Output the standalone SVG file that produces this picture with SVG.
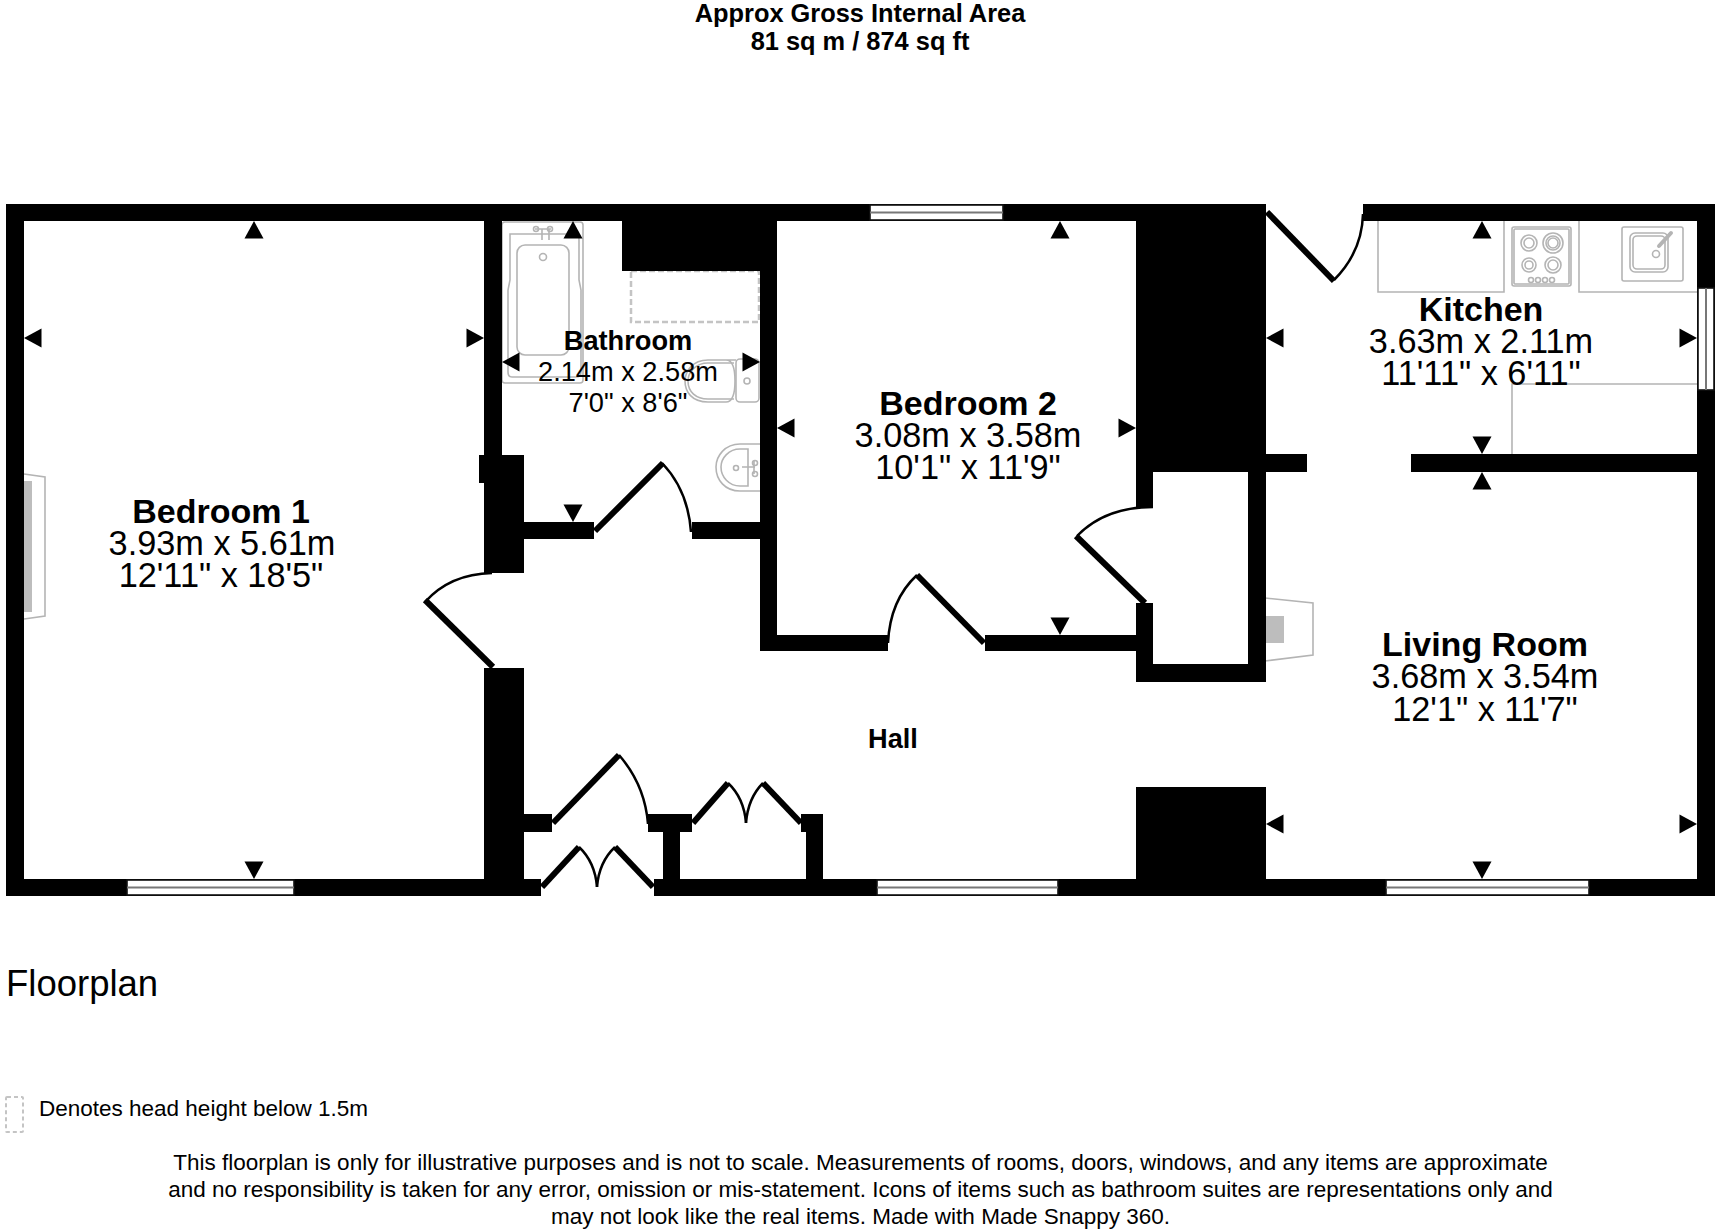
<svg xmlns="http://www.w3.org/2000/svg" width="1720" height="1232" viewBox="0 0 1720 1232">
<style>
text{font-family:"Liberation Sans",Arial,sans-serif;fill:#000;text-anchor:middle}
.n{font-weight:700;font-size:34px}.d{font-size:34.3px}
.ns{font-weight:700;font-size:27.2px}.ds{font-size:27.2px}
.sm{font-size:22.5px}.h{font-weight:700;font-size:25.4px}
.leaf{stroke:#000;stroke-width:6;fill:none}
.arc{stroke:#000;stroke-width:2.5;fill:none}
.fx{stroke:#b4b4b4;stroke-width:1.6;fill:none}
.dash{stroke:#c4c4c4;stroke-width:2.5;stroke-dasharray:6 3;fill:none}
.win{fill:#fff;stroke:#111;stroke-width:1.6}
.mid{stroke:#777;stroke-width:2}
</style>
<defs><path id="t" d="M-9.500 0H9.500L0 -17.500Z"/></defs>
<rect width="1720" height="1232" fill="#fff"/>
<g id="fixtures">
<rect class="fx" x="502" y="222" width="81" height="161" rx="3"/>
<path class="fx" d="M510 234H578Q579 234 579 240V280L581 290V372Q581 377 576 377H512Q508 377 508 372V290L510 280Z"/>
<rect class="fx" x="517" y="245" width="52" height="110" rx="8"/>
<circle class="fx" cx="543" cy="257" r="3.5"/>
<path class="fx" d="M542 240V229M549 240V229M535 229H551"/>
<circle class="fx" cx="536" cy="229" r="2.5"/><circle class="fx" cx="550" cy="229" r="2.5"/>
<rect class="fx" x="736" y="359" width="23" height="43" rx="4"/>
<circle class="fx" cx="747" cy="381" r="3"/>
<path class="fx" d="M736 360H708C692 360 685 372 685 381C685 392 692 402 708 402H726C732 402 735 396 735 381C735 366 732 360 726 360"/>
<path class="fx" d="M734 363H708C696 363 688 372 688 381C688 392 696 399 708 399H734"/>
<path class="fx" d="M760 444H740C725 444 716 456 716 467C716 480 725 491 740 491H760"/>
<path class="fx" d="M748 449H740C729 449 721 458 721 467C721 477 729 486 740 486H748Z"/>
<circle class="fx" cx="736" cy="468" r="2.5"/>
<path class="fx" d="M742 467H755M754 461V474"/>
<circle class="fx" cx="755" cy="463" r="2.5"/><circle class="fx" cx="755" cy="474" r="2.5"/>
<rect class="dash" x="631" y="271" width="128" height="51"/>
<path class="fx" d="M1378 221V292H1504V221M1579 221V292H1697M1512 454V384H1697"/>
<rect class="fx" x="1512" y="227" width="59" height="59" rx="2"/>
<rect class="fx" x="1514" y="229" width="55" height="55" rx="1"/>
<circle class="fx" cx="1529" cy="243" r="8"/><circle class="fx" cx="1529" cy="243" r="5"/>
<circle class="fx" cx="1553" cy="243" r="10"/><circle class="fx" cx="1553" cy="243" r="7"/><circle class="fx" cx="1553" cy="243" r="5"/>
<circle class="fx" cx="1529" cy="265" r="7"/><circle class="fx" cx="1529" cy="265" r="4"/>
<circle class="fx" cx="1553" cy="265" r="8"/><circle class="fx" cx="1553" cy="265" r="5"/>
<circle class="fx" cx="1531" cy="280" r="2.5"/><circle class="fx" cx="1538" cy="280" r="2.5"/><circle class="fx" cx="1545" cy="280" r="2.5"/><circle class="fx" cx="1552" cy="280" r="2.5"/>
<rect class="fx" x="1622" y="227" width="61" height="54" rx="2"/>
<rect class="fx" x="1630" y="233" width="38" height="39" rx="5"/>
<rect class="fx" x="1633" y="236" width="32" height="33" rx="4"/>
<circle class="fx" cx="1656" cy="254" r="3.5"/>
<path d="M1659 246L1671 233" stroke="#b4b4b4" stroke-width="4" stroke-linecap="round"/>
<path class="fx" stroke-width="1.2" d="M24 474L45 477V616L24 619"/>
<rect x="24" y="481" width="8" height="131" fill="#bdbdbd"/>
<path class="fx" stroke-width="1.2" d="M1265 598L1313 603V655L1265 661"/>
<rect x="1265" y="616" width="19" height="27" fill="#bdbdbd"/>
</g>
<g id="walls" fill="#000">
<rect x="6" y="204" width="1260" height="17"/>
<rect x="1363" y="204" width="352" height="17"/>
<rect x="6" y="204" width="18" height="692"/>
<rect x="1697" y="204" width="18" height="692"/>
<rect x="6" y="879" width="535" height="17"/>
<rect x="654" y="879" width="1061" height="17"/>
<rect x="484" y="204" width="18" height="260"/>
<rect x="479" y="455" width="45" height="28"/>
<rect x="484" y="455" width="40" height="118"/>
<rect x="484" y="668" width="40" height="220"/>
<rect x="622" y="204" width="155" height="67"/>
<rect x="760" y="204" width="17" height="447"/>
<rect x="524" y="522" width="70" height="17"/>
<rect x="692" y="522" width="68" height="17"/>
<rect x="760" y="635" width="128" height="16"/>
<rect x="985" y="635" width="151" height="16"/>
<rect x="1136" y="204" width="130" height="268"/>
<rect x="1136" y="460" width="17" height="47"/>
<rect x="1136" y="603" width="17" height="79"/>
<rect x="1136" y="664" width="130" height="18"/>
<rect x="1248" y="460" width="18" height="222"/>
<rect x="1265" y="454" width="42" height="18"/>
<rect x="1411" y="454" width="286" height="18"/>
<rect x="1136" y="787" width="130" height="100"/>
<rect x="524" y="814" width="28" height="18"/>
<rect x="648" y="814" width="44" height="18"/>
<rect x="663" y="814" width="17" height="70"/>
<rect x="801" y="814" width="22" height="18"/>
<rect x="806" y="814" width="17" height="70"/>
</g>
<g id="windows">
<rect class="win" x="870" y="205" width="133" height="15"/><path class="mid" d="M870 212.500H1003"/>
<rect class="win" x="127" y="880" width="167" height="15"/><path class="mid" d="M127 887.500H294"/>
<rect class="win" x="877" y="880" width="181" height="15"/><path class="mid" d="M877 887.500H1058"/>
<rect class="win" x="1386" y="880" width="203" height="15"/><path class="mid" d="M1386 887.500H1589"/>
<rect class="win" x="1698" y="288" width="16" height="102"/><path class="mid" d="M1706 288V390"/>
</g>
<g id="doors">
<path class="leaf" d="M493 667L425 600"/><path class="arc" d="M492 573Q450 574 425 602"/>
<path class="leaf" d="M595 531L663 463"/><path class="arc" d="M662 463Q688 490 691 532"/>
<path class="leaf" d="M984 643L917 575"/><path class="arc" d="M917 575Q890 600 888 643"/>
<path class="leaf" d="M1145 603L1076 536"/><path class="arc" d="M1077 536Q1105 507 1153 507"/>
<path class="leaf" d="M1267 212L1334 281"/><path class="arc" d="M1334 280Q1362 252 1363 214"/>
<path class="leaf" d="M553 823L619 755"/><path class="arc" d="M619 755Q645 785 648 824"/>
<path class="leaf" d="M542 887L579 847"/><path class="arc" d="M579 847Q595 862 597 887"/>
<path class="leaf" d="M653 887L615 847"/><path class="arc" d="M615 847Q599 862 597 887"/>
<path class="leaf" d="M693 823L728 783"/><path class="arc" d="M728 783Q744 798 746 823"/>
<path class="leaf" d="M801 823L763 783"/><path class="arc" d="M763 783Q748 798 746 823"/>
</g>
<g id="markers" fill="#000">
<use href="#t" x="254" y="238.500"/>
<use href="#t" transform="translate(254 861.500) rotate(180)"/>
<use href="#t" transform="translate(41.500 338) rotate(-90)"/>
<use href="#t" transform="translate(466.500 338) rotate(90)"/>
<use href="#t" x="573" y="238.500"/>
<use href="#t" transform="translate(573 504.500) rotate(180)"/>
<use href="#t" transform="translate(519.500 362) rotate(-90)"/>
<use href="#t" transform="translate(742.500 362) rotate(90)"/>
<use href="#t" x="1060" y="238.500"/>
<use href="#t" transform="translate(1060 617.500) rotate(180)"/>
<use href="#t" transform="translate(794.500 428) rotate(-90)"/>
<use href="#t" transform="translate(1118.500 428) rotate(90)"/>
<use href="#t" x="1482" y="238.500"/>
<use href="#t" transform="translate(1482 436.500) rotate(180)"/>
<use href="#t" transform="translate(1283.500 338) rotate(-90)"/>
<use href="#t" transform="translate(1679.500 338) rotate(90)"/>
<use href="#t" x="1482" y="489.500"/>
<use href="#t" transform="translate(1482 861.500) rotate(180)"/>
<use href="#t" transform="translate(1283.500 824) rotate(-90)"/>
<use href="#t" transform="translate(1679.500 824) rotate(90)"/>
</g>
<g id="labels">
<text class="h" x="860" y="22">Approx Gross Internal Area</text>
<text class="h" x="860" y="50">81 sq m / 874 sq ft</text>
<text class="n" x="221" y="523">Bedroom 1</text><text class="d" x="222" y="555">3.93m x 5.61m</text><text class="d" x="221" y="587">12'11" x 18'5"</text>
<text class="ns" x="628" y="350">Bathroom</text><text class="ds" x="628" y="381">2.14m x 2.58m</text><text class="ds" x="628" y="412">7'0" x 8'6"</text>
<text class="n" x="968" y="415">Bedroom 2</text><text class="d" x="968" y="447">3.08m x 3.58m</text><text class="d" x="968" y="479">10'1" x 11'9"</text>
<text class="n" x="1481" y="321">Kitchen</text><text class="d" x="1481" y="353">3.63m x 2.11m</text><text class="d" x="1481" y="385">11'11" x 6'11"</text>
<text class="n" x="1485" y="656">Living Room</text><text class="d" x="1485" y="688">3.68m x 3.54m</text><text class="d" x="1485" y="721">12'1" x 11'7"</text>
<text class="ns" x="893" y="748">Hall</text>
<text style="text-anchor:start;font-size:36.500px" x="6" y="996">Floorplan</text>
<rect class="dash" x="6" y="1097" width="17" height="35" rx="1" style="stroke-width:2;stroke-dasharray:4 3"/>
<text class="sm" style="text-anchor:start" x="39" y="1116">Denotes head height below 1.5m</text>
<text class="sm" x="860.500" y="1170">This floorplan is only for illustrative purposes and is not to scale. Measurements of rooms, doors, windows, and any items are approximate</text>
<text class="sm" x="860.500" y="1197">and no responsibility is taken for any error, omission or mis-statement. Icons of items such as bathroom suites are representations only and</text>
<text class="sm" x="860.500" y="1224">may not look like the real items. Made with Made Snappy 360.</text>
</g>
</svg>
